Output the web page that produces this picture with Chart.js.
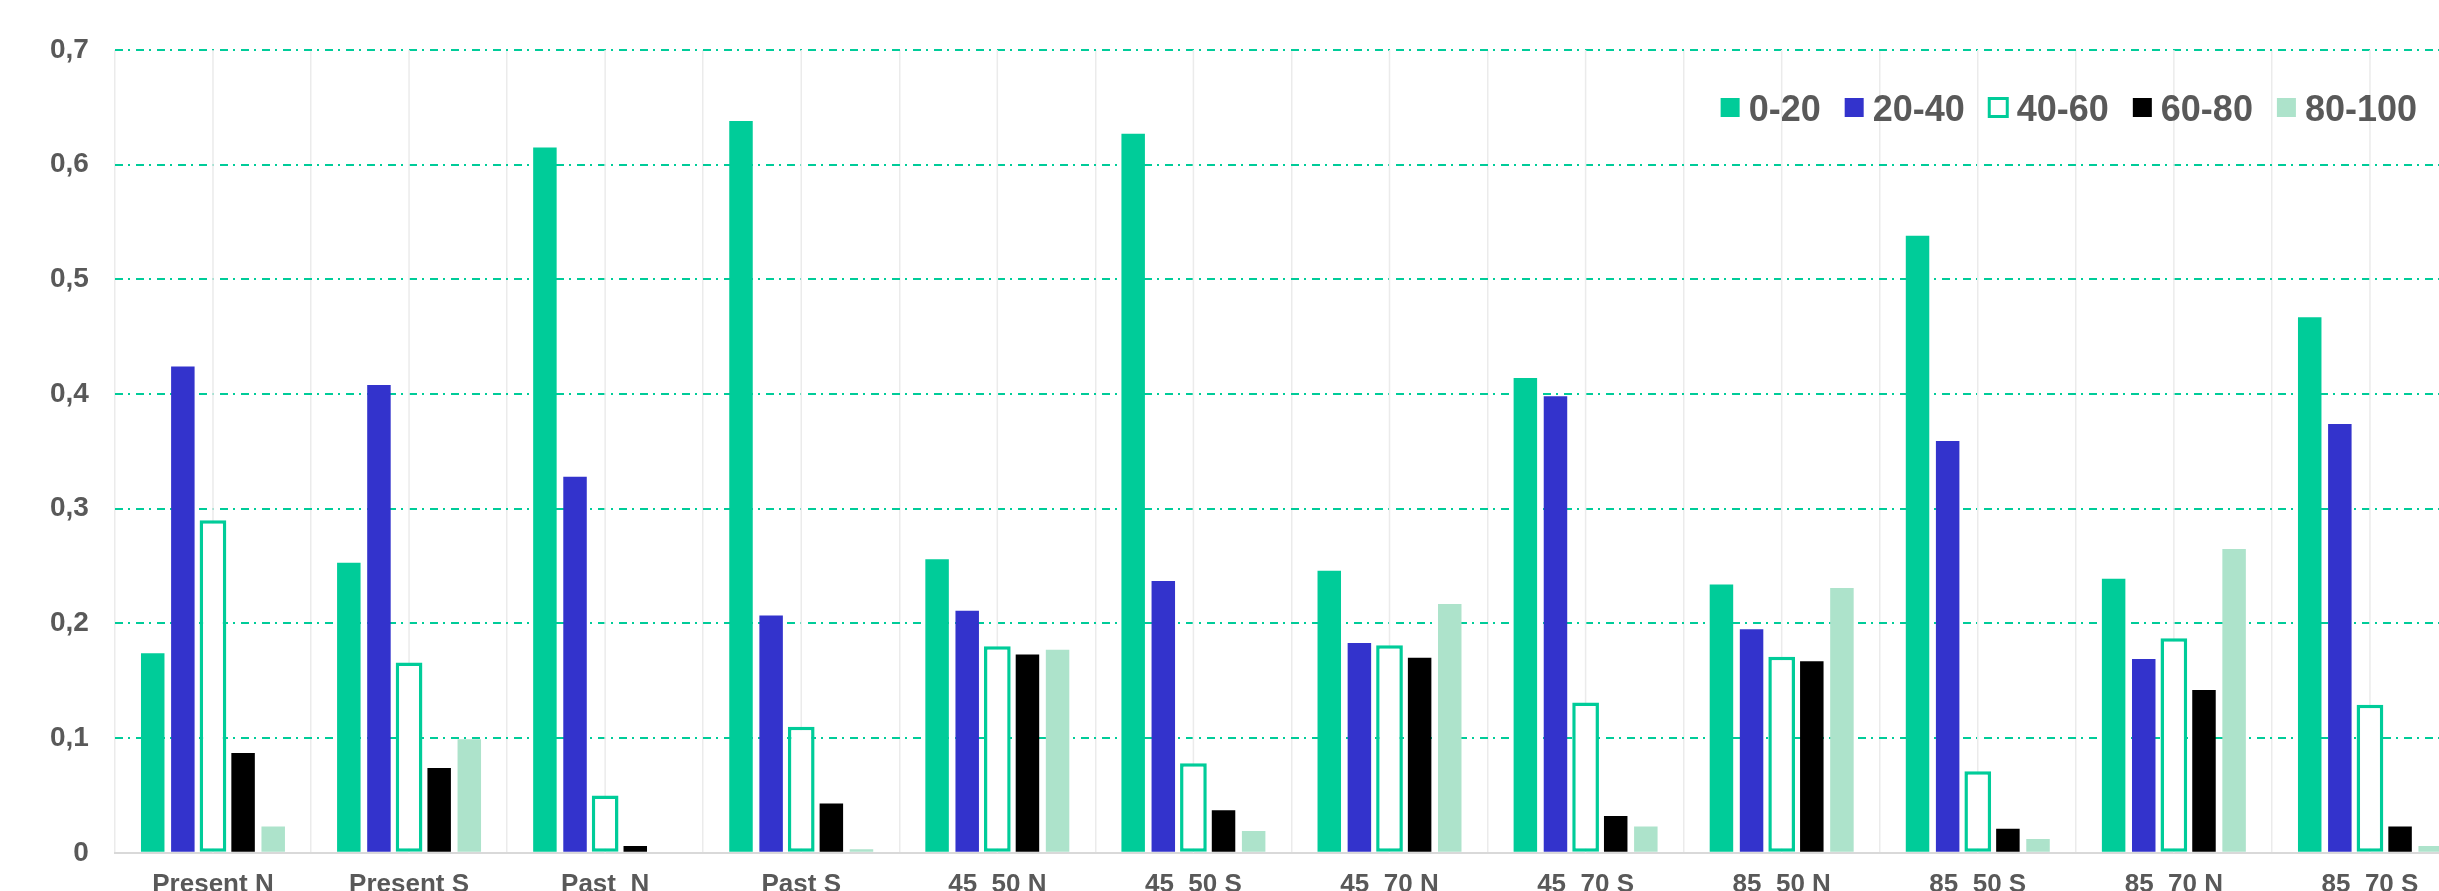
<!DOCTYPE html>
<html>
<head>
<meta charset="utf-8">
<script src="https://cdn.jsdelivr.net/npm/chart.js@4/dist/chart.umd.min.js"></script>
<style>
    html, body { margin: 0; padding: 0; background: #fff; overflow: hidden; }
    #wrap { position: absolute; left: 0; top: 0; width: 2468px; height: 921px; }
</style>
</head>
<body>
<div id="wrap"><canvas id="classChart"></canvas></div>
<script>
const categories = ['Present N', 'Present S', 'Past_N', 'Past S', '45_50 N', '45_50 S',
    '45_70 N', '45_70 S', '85_50 N', '85_50 S', '85_70 N', '85_70 S'];
const seriesNames = ['0-20', '20-40', '40-60', '60-80', '80-100'];

const v0_20   = [0.174, 0.253, 0.615, 0.638, 0.256, 0.627, 0.246, 0.414, 0.234, 0.538, 0.239, 0.467];
const v20_40  = [0.424, 0.408, 0.328, 0.207, 0.211, 0.237, 0.183, 0.398, 0.195, 0.359, 0.169, 0.374];
const v40_60  = [0.290, 0.166, 0.050, 0.110, 0.180, 0.078, 0.181, 0.131, 0.171, 0.071, 0.187, 0.129];
const v60_80  = [0.087, 0.074, 0.006, 0.043, 0.173, 0.037, 0.170, 0.032, 0.167, 0.021, 0.142, 0.023];
const v80_100 = [0.023, 0.099, 0.000, 0.003, 0.177, 0.019, 0.217, 0.023, 0.231, 0.012, 0.265, 0.006];

const yTicks = [0, 0.1, 0.2, 0.3, 0.4, 0.5, 0.6, 0.7];

const green = '#00CC99';
const blue = '#3333CC';
const black = '#000000';
const pale = '#ADE3CB';
const textGrey = '#595959';
const fontFamily = '"Liberation Sans", Arial, sans-serif';

// light vertical lines at the middle of each category (Excel style)
const midLines = {
    id: 'midLines',
    beforeDatasetsDraw(chart) {
        const { ctx, chartArea, scales } = chart;
        ctx.save();
        ctx.strokeStyle = '#EBEBEB';
        ctx.lineWidth = 1.5;
        categories.forEach((c, i) => {
            const x = scales.x.getPixelForValue(i);
            ctx.beginPath();
            ctx.moveTo(x, chartArea.top);
            ctx.lineTo(x, chartArea.bottom);
            ctx.stroke();
        });
        ctx.restore();
    }
};

// legend drawn inside the plot, right aligned
const innerLegend = {
    id: 'innerLegend',
    afterDatasetsDraw(chart) {
        const { ctx } = chart;
        const ds = chart.data.datasets;
        ctx.save();
        ctx.font = 'bold 36px ' + fontFamily;
        ctx.textBaseline = 'alphabetic';
        let x = 2417;
        for (let i = ds.length - 1; i >= 0; i--) {
            const w = ctx.measureText(ds[i].label).width;
            const tx = x - w;
            const bx = tx - 9 - 19;
            ctx.fillStyle = textGrey;
            ctx.fillText(ds[i].label, tx, 121);
            if (ds[i].label === '40-60') {
                ctx.fillStyle = '#fff';
                ctx.fillRect(bx, 98, 19, 19);
                ctx.strokeStyle = green;
                ctx.lineWidth = 3;
                ctx.strokeRect(bx + 0.5, 98.5, 18, 18);
            } else {
                ctx.fillStyle = ds[i].backgroundColor;
                ctx.fillRect(bx, 98, 19, 19);
            }
            x = bx - 24;
        }
        ctx.restore();
    }
};

const solid = { borderWidth: 0, barPercentage: 0.78, categoryPercentage: 0.768 };

new Chart(document.getElementById('classChart'), {
    type: 'bar',
    data: {
        labels: categories,
        datasets: [
            { label: seriesNames[0], data: v0_20, backgroundColor: green, ...solid },
            { label: seriesNames[1], data: v20_40, backgroundColor: blue, ...solid },
            {
                label: seriesNames[2], data: v40_60, backgroundColor: '#ffffff',
                borderColor: green, borderWidth: 3.5, borderSkipped: false,
                barPercentage: 0.887, categoryPercentage: 0.768
            },
            { label: seriesNames[3], data: v60_80, backgroundColor: black, ...solid },
            { label: seriesNames[4], data: v80_100, backgroundColor: pale, ...solid }
        ]
    },
    options: {
        responsive: true,
        maintainAspectRatio: false,
        animation: false,
        layout: { padding: { left: 24, top: 50, right: 0, bottom: 5 } },
        plugins: {
            legend: { display: false },
            tooltip: { enabled: false }
        },
        scales: {
            x: {
                grid: { color: '#EBEBEB', lineWidth: 1.5, drawTicks: false, offset: true },
                border: { display: true, color: '#D9D9D9', width: 2 },
                ticks: {
                    color: textGrey, padding: 16, maxRotation: 0, autoSkip: false,
                    font: { family: fontFamily, size: 26, weight: 'bold' }
                }
            },
            y: {
                min: 0,
                max: 0.7,
                afterBuildTicks: axis => { axis.ticks = yTicks.map(v => ({ value: v })); },
                grid: {
                    color: c => (c.tick && c.tick.value === 0) ? 'rgba(0,0,0,0)' : green,
                    lineWidth: 2,
                    drawTicks: false
                },
                border: { display: false, dash: [8, 5, 2, 6] },
                ticks: {
                    color: textGrey, padding: 26,
                    font: { family: fontFamily, size: 28, weight: 'bold' },
                    callback: v => v === 0 ? '0' : v.toFixed(1).replace('.', ',')
                }
            }
        }
    },
    plugins: [midLines, innerLegend]
});
</script>
</body>
</html>
